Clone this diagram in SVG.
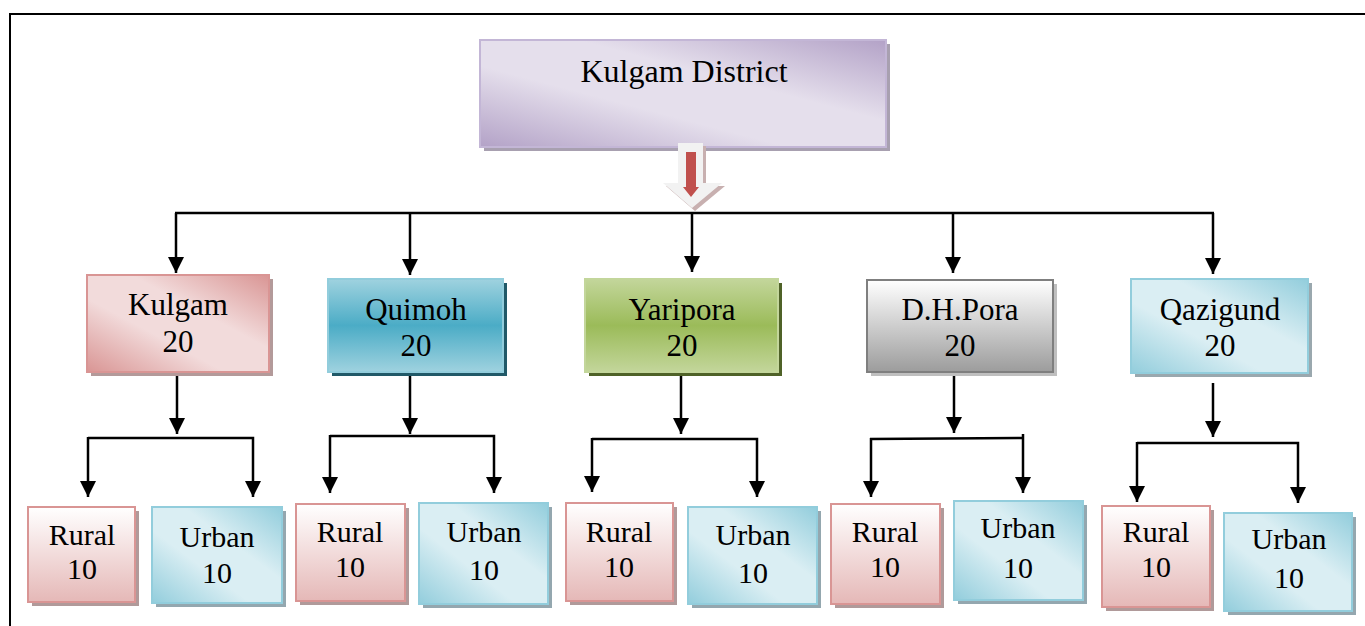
<svg xmlns="http://www.w3.org/2000/svg" width="1365" height="626" viewBox="0 0 1365 626">
<defs>
<linearGradient id="gPurple" x1="1" y1="0" x2="0" y2="1"><stop offset="0" stop-color="#b3a2c7"/><stop offset="0.38" stop-color="#e5dfec"/><stop offset="0.62" stop-color="#e5dfec"/><stop offset="1" stop-color="#b3a2c7"/></linearGradient>
<linearGradient id="gPink" x1="1" y1="0" x2="0" y2="1"><stop offset="0" stop-color="#d99594"/><stop offset="0.38" stop-color="#f2dbdb"/><stop offset="0.62" stop-color="#f2dbdb"/><stop offset="1" stop-color="#d99594"/></linearGradient>
<linearGradient id="gAqua" x1="1" y1="0" x2="0" y2="1"><stop offset="0" stop-color="#92cddc"/><stop offset="0.38" stop-color="#daeef3"/><stop offset="0.62" stop-color="#daeef3"/><stop offset="1" stop-color="#92cddc"/></linearGradient>
<linearGradient id="gTeal" x1="0" y1="0" x2="0" y2="1"><stop offset="0" stop-color="#9fd2df"/><stop offset="0.5" stop-color="#4bacc6"/><stop offset="1" stop-color="#9fd2df"/></linearGradient>
<linearGradient id="gGreen" x1="0" y1="0" x2="0" y2="1"><stop offset="0" stop-color="#c3d69b"/><stop offset="0.5" stop-color="#9bbb59"/><stop offset="1" stop-color="#c3d69b"/></linearGradient>
<linearGradient id="gGray" x1="0" y1="0" x2="0" y2="1"><stop offset="0" stop-color="#ffffff"/><stop offset="1" stop-color="#9c9c9c"/></linearGradient>
<linearGradient id="gRural" x1="0" y1="0" x2="0" y2="1"><stop offset="0" stop-color="#ffffff"/><stop offset="1" stop-color="#e5b8b7"/></linearGradient>
<marker id="ah" markerUnits="userSpaceOnUse" markerWidth="16" markerHeight="16" refX="15" refY="7.5" orient="auto" viewBox="0 0 15 15"><path d="M0,0 L15,7.5 L0,15 z" fill="#000"/></marker>
<style>
text{font-family:"Liberation Serif","Times New Roman",serif;fill:#000;text-anchor:middle}
.t1{font-size:32px}
.t2{font-size:31px}
.t3{font-size:30px}
.conn path{fill:none;stroke:#000;stroke-width:2.5}
.arr{marker-end:url(#ah)}
</style>
</defs>
<rect width="1365" height="626" fill="#fff"/>
<path d="M10,626 V14 H1365" fill="none" stroke="#000" stroke-width="2"/>

<g id="district">
<rect x="484" y="44" width="406" height="107" fill="#a8a0b0"/>
<rect x="480" y="40" width="406" height="107" fill="url(#gPurple)" stroke="#c3b6d6" stroke-width="2"/>
<text class="t1" x="684" y="82">Kulgam District</text>
</g>

<g id="bigArrow">
<polygon points="681,146 706,146 706,186 725,186 695,211 666,186 681,186" fill="#c8b0b0"/>
<polygon points="678,143 703,143 703,183 722,183 692,208 663,183 678,183" fill="#f2f2f2"/>
<polygon points="686,152 696,152 696,187 699,187 691,197 683,187 686,187" fill="#c0504d"/>
</g>

<g class="conn" id="connectors">
<path d="M175,213 H1214"/>
<path class="arr" d="M176,213 V273"/>
<path class="arr" d="M410,213 V275"/>
<path class="arr" d="M692,213 V272"/>
<path class="arr" d="M953,213 V273"/>
<path class="arr" d="M1213,213 V274"/>

<path class="arr" d="M177,375 V434"/>
<path class="arr" d="M88,438 H253 V497"/>
<path class="arr" d="M88,437 V497"/>
<path class="arr" d="M410,375 V434"/>
<path class="arr" d="M330,436 H494 V493"/>
<path class="arr" d="M330,435 V493"/>
<path class="arr" d="M681,375 V434"/>
<path class="arr" d="M592,439 H757 V497"/>
<path class="arr" d="M592,438 V492"/>
<path class="arr" d="M954,375 V433"/>
<path class="arr" d="M870,439 L1023,438 M1023,434 V493"/>
<path class="arr" d="M871,438 V497"/>
<path class="arr" d="M1213,383 V437"/>
<path class="arr" d="M1137,443 H1298 V503"/>
<path class="arr" d="M1137,442 V502"/>
</g>

<g id="kulgam">
<rect x="91" y="279" width="182" height="97" fill="#b39a9a"/>
<rect x="87" y="275" width="182" height="97" fill="url(#gPink)" stroke="#d99594" stroke-width="2"/>
<text class="t2" x="178" y="315">Kulgam</text><text class="t2" x="178" y="352">20</text>
</g>
<g id="quimoh">
<rect x="332" y="283" width="175" height="93" fill="#215968"/>
<rect x="328" y="279" width="175" height="93" fill="url(#gTeal)" stroke="#92cddc" stroke-width="2"/>
<text class="t2" x="416" y="320">Quimoh</text><text class="t2" x="416" y="356">20</text>
</g>
<g id="yaripora">
<rect x="589" y="283" width="193" height="93" fill="#4f6228"/>
<rect x="585" y="279" width="193" height="93" fill="url(#gGreen)" stroke="#c3d69b" stroke-width="2"/>
<text class="t2" x="682" y="320">Yaripora</text><text class="t2" x="682" y="356">20</text>
</g>
<g id="dhpora">
<rect x="871" y="284" width="186" height="92" fill="#bfbfbf"/>
<rect x="867" y="280" width="186" height="92" fill="url(#gGray)" stroke="#7f7f7f" stroke-width="2"/>
<text class="t2" x="960" y="320">D.H.Pora</text><text class="t2" x="960" y="356">20</text>
</g>
<g id="qazigund">
<rect x="1135" y="283" width="177" height="94" fill="#9aa8ae"/>
<rect x="1131" y="279" width="177" height="94" fill="url(#gAqua)" stroke="#92cddc" stroke-width="2"/>
<text class="t2" x="1220" y="320">Qazigund</text><text class="t2" x="1220" y="356">20</text>
</g>

<g id="rural1"><rect x="32" y="511" width="107" height="95" fill="#b09a9a"/><rect x="28" y="507" width="107" height="95" fill="url(#gRural)" stroke="#d99594" stroke-width="2"/><text class="t3" x="82" y="545">Rural</text><text class="t3" x="82" y="579">10</text></g>
<g id="urban1"><rect x="156" y="511" width="130" height="96" fill="#94a7af"/><rect x="152" y="507" width="130" height="96" fill="url(#gAqua)" stroke="#92cddc" stroke-width="2"/><text class="t3" x="217" y="547">Urban</text><text class="t3" x="217" y="583">10</text></g>
<g id="rural2"><rect x="300" y="508" width="109" height="97" fill="#b09a9a"/><rect x="296" y="504" width="109" height="97" fill="url(#gRural)" stroke="#d99594" stroke-width="2"/><text class="t3" x="350" y="542">Rural</text><text class="t3" x="350" y="577">10</text></g>
<g id="urban2"><rect x="423" y="507" width="129" height="101" fill="#94a7af"/><rect x="419" y="503" width="129" height="101" fill="url(#gAqua)" stroke="#92cddc" stroke-width="2"/><text class="t3" x="484" y="542">Urban</text><text class="t3" x="484" y="580">10</text></g>
<g id="rural3"><rect x="570" y="507" width="107" height="98" fill="#b09a9a"/><rect x="566" y="503" width="107" height="98" fill="url(#gRural)" stroke="#d99594" stroke-width="2"/><text class="t3" x="619" y="542">Rural</text><text class="t3" x="619" y="577">10</text></g>
<g id="urban3"><rect x="692" y="511" width="129" height="97" fill="#94a7af"/><rect x="688" y="507" width="129" height="97" fill="url(#gAqua)" stroke="#92cddc" stroke-width="2"/><text class="t3" x="753" y="545">Urban</text><text class="t3" x="753" y="583">10</text></g>
<g id="rural4"><rect x="835" y="508" width="109" height="100" fill="#b09a9a"/><rect x="831" y="504" width="109" height="100" fill="url(#gRural)" stroke="#d99594" stroke-width="2"/><text class="t3" x="885" y="542">Rural</text><text class="t3" x="885" y="577">10</text></g>
<g id="urban4"><rect x="958" y="505" width="129" height="99" fill="#94a7af"/><rect x="954" y="501" width="129" height="99" fill="url(#gAqua)" stroke="#92cddc" stroke-width="2"/><text class="t3" x="1018" y="538">Urban</text><text class="t3" x="1018" y="578">10</text></g>
<g id="rural5"><rect x="1106" y="510" width="108" height="101" fill="#b09a9a"/><rect x="1102" y="506" width="108" height="101" fill="url(#gRural)" stroke="#d99594" stroke-width="2"/><text class="t3" x="1156" y="542">Rural</text><text class="t3" x="1156" y="577">10</text></g>
<g id="urban5"><rect x="1228" y="517" width="128" height="98" fill="#94a7af"/><rect x="1224" y="513" width="128" height="98" fill="url(#gAqua)" stroke="#92cddc" stroke-width="2"/><text class="t3" x="1289" y="549">Urban</text><text class="t3" x="1289" y="588">10</text></g>
</svg>
